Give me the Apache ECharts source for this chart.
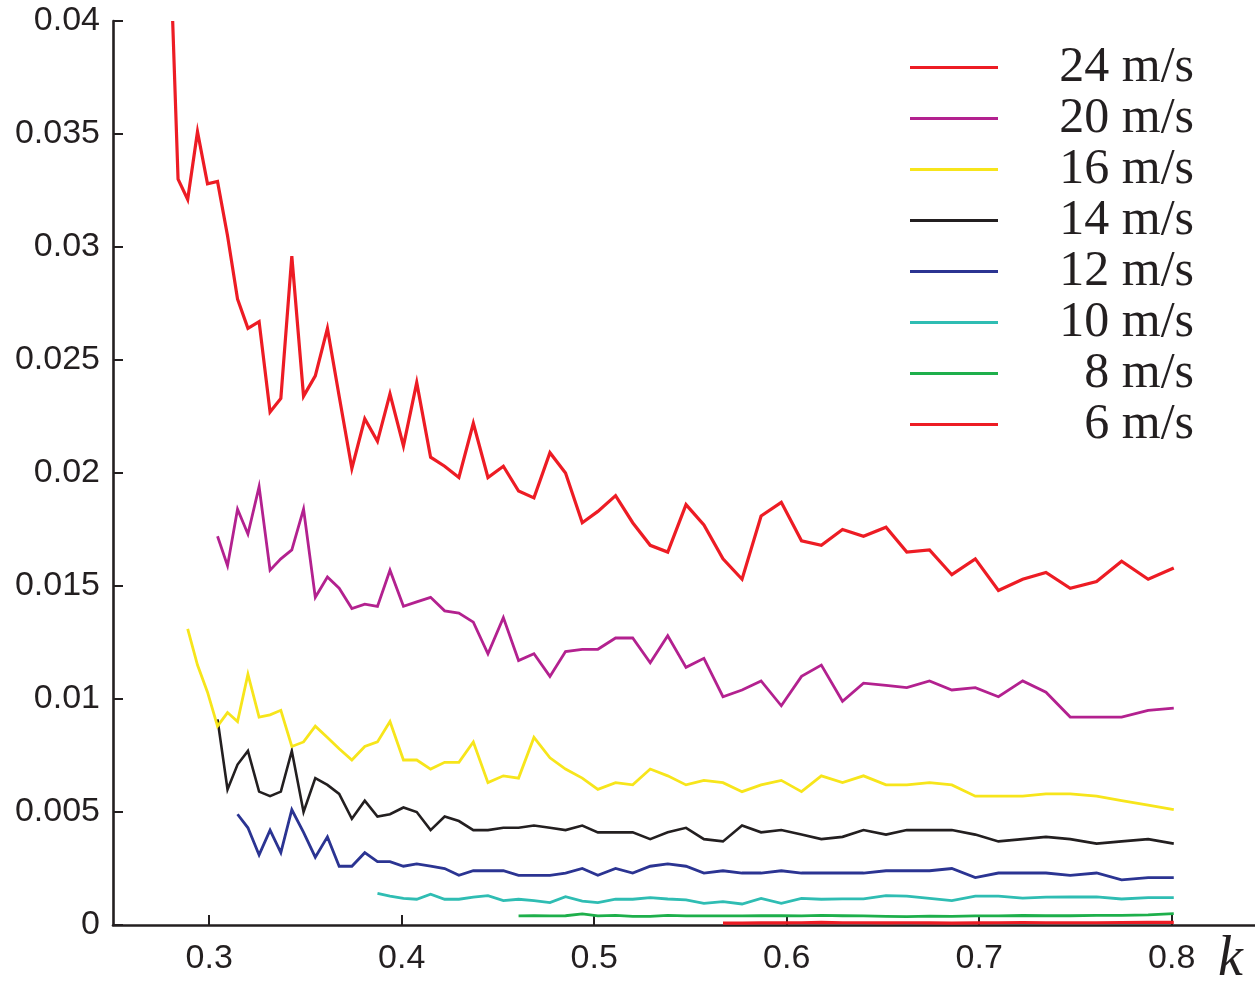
<!DOCTYPE html>
<html>
<head>
<meta charset="utf-8">
<script src="https://cdn.jsdelivr.net/npm/echarts@6/dist/echarts.min.js"></script>
<style>
  html, body { margin: 0; padding: 0; background: #fff; }
  #chart { width: 1255px; height: 981px; }
</style>
</head>
<body>
<div id="chart"></div>
<script>
// Shared k grid (wavenumber) on which every curve is sampled
const kGrid = [
  0.2810, 0.2838, 0.2888, 0.2939, 0.2991, 0.3043, 0.3095, 0.3147, 0.3201, 0.3259,
  0.3316, 0.3372, 0.3429, 0.3490, 0.3551, 0.3614, 0.3675, 0.3741, 0.3808, 0.3874,
  0.3939, 0.4009, 0.4078, 0.4150, 0.4223, 0.4297, 0.4372, 0.4448, 0.4528, 0.4607,
  0.4687, 0.4770, 0.4851, 0.4938, 0.5019, 0.5111, 0.5200, 0.5291, 0.5382, 0.5477,
  0.5570, 0.5669, 0.5768, 0.5867, 0.5972, 0.6077, 0.6180, 0.6290, 0.6399, 0.6516,
  0.6624, 0.6742, 0.6858, 0.6980, 0.7100, 0.7226, 0.7347, 0.7473, 0.7610, 0.7740,
  0.7878, 0.8011
];

// Each curve: values from grid index `start` onward
const v24 = [
  0.0400, 0.0330, 0.0321, 0.0351, 0.0328, 0.0329, 0.0305, 0.0277, 0.0264, 0.0267,
  0.0227, 0.0233, 0.0296, 0.0234, 0.0243, 0.0264, 0.0234, 0.0202, 0.0224, 0.0214,
  0.0235, 0.0212, 0.0240, 0.0207, 0.0203, 0.0198, 0.0222, 0.0198, 0.0203, 0.0192,
  0.0189, 0.0209, 0.0200, 0.0178, 0.0183, 0.0190, 0.0178, 0.0168, 0.0165, 0.0186,
  0.0177, 0.0162, 0.0153, 0.0181, 0.0187, 0.0170, 0.0168, 0.0175, 0.0172, 0.0176,
  0.0165, 0.0166, 0.0155, 0.0162, 0.0148, 0.0153, 0.0156, 0.0149, 0.0152, 0.0161,
  0.0153, 0.0158
];
const start24 = 0;

const v20 = [
  0.0172, 0.0159, 0.0184, 0.0173, 0.0194, 0.0157, 0.0162, 0.0166, 0.0184, 0.0145,
  0.0154, 0.0149, 0.0140, 0.0142, 0.0141, 0.0157, 0.0141, 0.0143, 0.0145, 0.0139,
  0.0138, 0.0134, 0.0120, 0.0136, 0.0117, 0.0120, 0.0110, 0.0121, 0.0122, 0.0122,
  0.0127, 0.0127, 0.0116, 0.0128, 0.0114, 0.0118, 0.0101, 0.0104, 0.0108, 0.0097,
  0.0110, 0.0115, 0.0099, 0.0107, 0.0106, 0.0105, 0.0108, 0.0104, 0.0105, 0.0101,
  0.0108, 0.0103, 0.0092, 0.0092, 0.0092, 0.0095, 0.0096
];
const start20 = 5;

const v16 = [
  0.0131, 0.0115, 0.0103, 0.0088, 0.0094, 0.0090, 0.0111, 0.0092, 0.0093, 0.0095,
  0.0079, 0.0081, 0.0088, 0.0083, 0.0078, 0.0073, 0.0079, 0.0081, 0.0090, 0.0073,
  0.0073, 0.0069, 0.0072, 0.0072, 0.0081, 0.0063, 0.0066, 0.0065, 0.0083, 0.0074,
  0.0069, 0.0065, 0.0060, 0.0063, 0.0062, 0.0069, 0.0066, 0.0062, 0.0064, 0.0063,
  0.0059, 0.0062, 0.0064, 0.0059, 0.0066, 0.0063, 0.0066, 0.0062, 0.0062, 0.0063,
  0.0062, 0.0057, 0.0057, 0.0057, 0.0058, 0.0058, 0.0057, 0.0055, 0.0053, 0.0051
];
const start16 = 2;

const v14 = [
  0.0091, 0.0060, 0.0071, 0.0077, 0.0059, 0.0057, 0.0059, 0.0077, 0.0050, 0.0065,
  0.0062, 0.0058, 0.0047, 0.0055, 0.0048, 0.0049, 0.0052, 0.0050, 0.0042, 0.0048,
  0.0046, 0.0042, 0.0042, 0.0043, 0.0043, 0.0044, 0.0043, 0.0042, 0.0044, 0.0041,
  0.0041, 0.0041, 0.0038, 0.0041, 0.0043, 0.0038, 0.0037, 0.0044, 0.0041, 0.0042,
  0.0040, 0.0038, 0.0039, 0.0042, 0.0040, 0.0042, 0.0042, 0.0042, 0.0040, 0.0037,
  0.0038, 0.0039, 0.0038, 0.0036, 0.0037, 0.0038, 0.0036
];
const start14 = 5;

const v12 = [
  0.0049, 0.0043, 0.0031, 0.0042, 0.0032, 0.0051, 0.0041, 0.0030, 0.0039, 0.0026,
  0.0026, 0.0032, 0.0028, 0.0028, 0.0026, 0.0027, 0.0026, 0.0025, 0.0022, 0.0024,
  0.0024, 0.0024, 0.0022, 0.0022, 0.0022, 0.0023, 0.0025, 0.0022, 0.0025, 0.0023,
  0.0026, 0.0027, 0.0026, 0.0023, 0.0024, 0.0023, 0.0023, 0.0024, 0.0023, 0.0023,
  0.0023, 0.0023, 0.0024, 0.0024, 0.0024, 0.0025, 0.0021, 0.0023, 0.0023, 0.0023,
  0.0022, 0.0023, 0.0020, 0.0021, 0.0021
];
const start12 = 7;

const v10 = [
  0.00140, 0.00128, 0.00118, 0.00114, 0.00136, 0.00114, 0.00114, 0.00123, 0.00130, 0.00108,
  0.00114, 0.00108, 0.00099, 0.00125, 0.00106, 0.00099, 0.00114, 0.00114, 0.00121, 0.00115,
  0.00111, 0.00096, 0.00103, 0.00093, 0.00118, 0.00096, 0.00118, 0.00114, 0.00116, 0.00116,
  0.00130, 0.00128, 0.00118, 0.00108, 0.00128, 0.00128, 0.00119, 0.00123, 0.00124, 0.00124,
  0.00115, 0.00121, 0.00121
];
const start10 = 19;

const v8 = [
  0.00040, 0.00041, 0.00040, 0.00041, 0.00049, 0.00040, 0.00043, 0.00038, 0.00038, 0.00043,
  0.00040, 0.00040, 0.00040, 0.00040, 0.00041, 0.00041, 0.00040, 0.00043, 0.00041, 0.00040,
  0.00038, 0.00037, 0.00039, 0.00038, 0.00040, 0.00040, 0.00042, 0.00041, 0.00041, 0.00043,
  0.00043, 0.00045, 0.00050
];
const start8 = 29;

const v6 = [
  0.00008, 0.00008, 0.00009, 0.00009, 0.00010, 0.00012, 0.00010, 0.00010, 0.00009, 0.00010,
  0.00009, 0.00008, 0.00009, 0.00010, 0.00011, 0.00010, 0.00010, 0.00010, 0.00011, 0.00012,
  0.00012
];
const start6 = 41;

const seriesNames = ['24 m/s', '20 m/s', '16 m/s', '14 m/s', '12 m/s', '10 m/s', '8 m/s', '6 m/s'];
const seriesColors = ['#ED1C24', '#B3218F', '#F7E51B', '#231F20', '#2B3492', '#2FBDB3', '#1EAF4B', '#ED1C24'];
const seriesWidths = [3.2, 2.8, 2.8, 2.6, 2.8, 2.8, 2.8, 3.2];
const seriesValues = [v24, v20, v16, v14, v12, v10, v8, v6];
const seriesStarts = [start24, start20, start16, start14, start12, start10, start8, start6];

const xTicks = [0.3, 0.4, 0.5, 0.6, 0.7, 0.8];

const axisColor = '#231F20';
const sans = 'Liberation Sans, Arial, sans-serif';
const serif = 'Liberation Serif, Times New Roman, serif';

function pairs(values, start) {
  return values.map((v, i) => [kGrid[start + i], v]);
}

const chart = echarts.init(document.getElementById('chart'), null, { renderer: 'canvas' });

chart.setOption({
  animation: false,
  backgroundColor: '#ffffff',
  grid: { left: 113, right: 0, top: 21, bottom: 56, containLabel: false },
  xAxis: {
    type: 'value',
    min: 0.25,
    max: 0.8433,
    axisLine: { show: true, onZero: false, lineStyle: { color: axisColor, width: 2.6 } },
    axisTick: { show: true, inside: true, length: 10, customValues: xTicks, lineStyle: { color: axisColor, width: 2 } },
    axisLabel: {
      show: true, customValues: xTicks, margin: 17,
      fontFamily: sans, fontSize: 34, color: axisColor,
      formatter: v => v.toFixed(1)
    },
    splitLine: { show: false }
  },
  yAxis: {
    type: 'value',
    min: 0,
    max: 0.04,
    interval: 0.005,
    axisLine: { show: true, onZero: false, lineStyle: { color: axisColor, width: 2.6 } },
    axisTick: { show: true, inside: true, length: 10, lineStyle: { color: axisColor, width: 2 } },
    axisLabel: {
      show: true, margin: 13,
      fontFamily: sans, fontSize: 34, color: axisColor,
      formatter: v => String(+v.toFixed(3))
    },
    splitLine: { show: false }
  },
  legend: {
    orient: 'vertical',
    left: 910,
    top: 42,
    padding: 0,
    itemGap: 0,
    itemWidth: 88,
    itemHeight: 3,
    icon: 'rect',
    selectedMode: false,
    data: seriesNames,
    formatter: name => '{t|' + name + '}',
    textStyle: {
      fontFamily: serif, fontSize: 50, color: axisColor, lineHeight: 51, height: 51,
      rich: { t: { width: 191, height: 51, align: 'right', fontFamily: serif, fontSize: 50, lineHeight: 51, color: axisColor } }
    }
  },
  graphic: [{
    type: 'text',
    left: 1218,
    top: 932,
    style: { text: 'k', font: 'italic 56px ' + serif, fill: axisColor }
  }],
  series: seriesNames.map((name, i) => ({
    name,
    type: 'line',
    data: pairs(seriesValues[i], seriesStarts[i]),
    showSymbol: false,
    symbol: 'none',
    color: seriesColors[i],
    lineStyle: { color: seriesColors[i], width: seriesWidths[i], join: 'miter' },
    z: 10 - i
  }))
});
</script>
</body>
</html>
